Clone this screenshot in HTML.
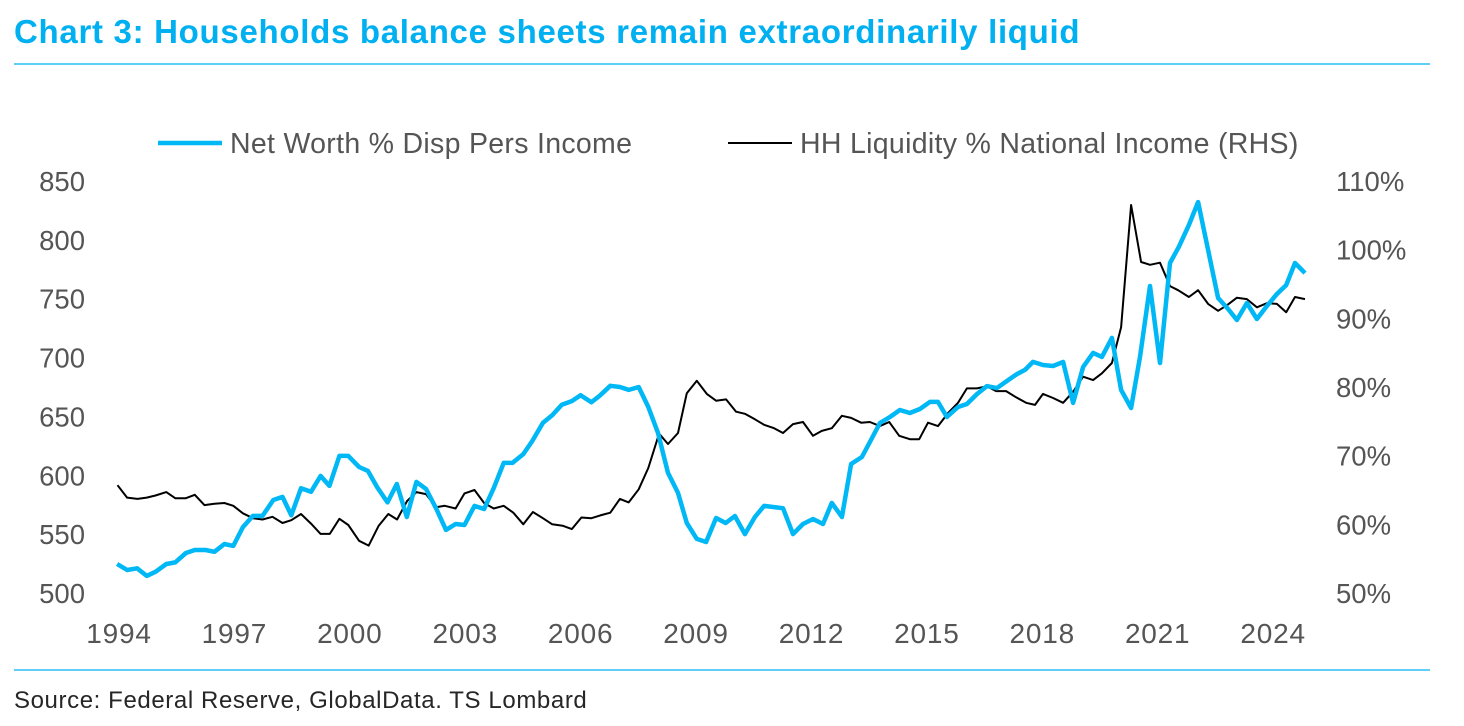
<!DOCTYPE html>
<html><head><meta charset="utf-8"><style>
body{margin:0;background:#fff;width:1464px;height:726px;overflow:hidden;font-family:"Liberation Sans",sans-serif}
#title{position:absolute;left:14px;top:13px;font-size:33px;font-weight:bold;color:#00b0f0;letter-spacing:0.7px;white-space:nowrap}
svg{position:absolute;left:0;top:0}
</style></head><body>
<div id="title">Chart 3: Households balance sheets remain extraordinarily liquid</div>
<svg id="chart" width="1464" height="726"></svg>
<script>
const leftTicks=[500,550,600,650,700,750,800,850];
const rightTicks=[50,60,70,80,90,100,110];
const yearTicks=[1994,1997,2000,2003,2006,2009,2012,2015,2018,2021,2024];
const nwDates=[1993.95,1994.21,1994.47,1994.72,1994.95,1995.23,1995.46,1995.74,1995.97,1996.25,1996.48,1996.74,1996.97,1997.22,1997.48,1997.73,1998.01,1998.25,1998.48,1998.73,1998.99,1999.24,1999.47,1999.73,1999.96,2000.24,2000.47,2000.71,2000.98,2001.22,2001.48,2001.73,2001.98,2002.24,2002.50,2002.75,2002.98,2003.24,2003.49,2003.74,2004.0,2004.23,2004.51,2004.74,2005.02,2005.26,2005.51,2005.77,2006.0,2006.28,2006.51,2006.77,2007.02,2007.25,2007.51,2007.76,
2008.01,2008.27,2008.53,2008.76,2009.02,2009.26,2009.52,2009.77,2010.01,2010.27,2010.53,2010.77,2011.03,2011.26,2011.52,2011.78,2012.04,2012.30,2012.53,2012.79,2013.03,2013.31,2013.52,2013.78,2014.04,2014.30,2014.56,2014.82,2015.08,2015.29,2015.52,2015.81,2016.04,2016.30,2016.56,2016.82,2017.08,2017.34,2017.55,2017.76,2018.02,2018.28,2018.54,2018.80,2019.06,2019.32,2019.55,2019.81,2020.05,2020.31,2020.54,2020.80,2021.06,2021.32,2021.55,2021.81,2022.05,2022.31,2022.57,2022.83,2023.06,2023.32,2023.58,2023.84,2024.10,2024.34,2024.57,2024.83];
const nwValues=[524.6,519.5,521,514.5,518,524.6,526,534,536.5,536.5,535,541.6,540,556,565.5,565.5,579,581.6,566,589,586,599.5,591,616.5,616.5,607,603.7,590,577,592.6,564.6,594.4,588.4,572,553.6,558.6,557.8,574,571.4,589,610.5,610.5,618,629,644.5,651,660,663,668,662,668,676,675,672.5,675,658,
636,602,585,559.5,546,543.3,563.7,559.5,565.4,550,564.6,574,573,572,550,558.6,562.9,558.6,576.5,564.6,609.6,615.5,628.3,644.4,649.5,655.5,652.9,656.3,662.3,662.3,649.5,658,660.6,669,675.8,674.1,680.1,686,689.5,696.3,693.7,692.8,696.3,661.5,692,704,700.6,716.7,672.5,657.2,700.6,760.8,695.4,780.3,794,812.6,832.1,791.4,750.6,741.3,731.9,746.4,732.8,743.8,754,761.6,780.3,771.8];
const liqDates=[1993.96,1994.21,1994.48,1994.72,1994.95,1995.23,1995.46,1995.74,1995.97,1996.22,1996.48,1996.74,1996.97,1997.22,1997.48,1997.73,1997.99,1998.25,1998.48,1998.73,1998.99,1999.24,1999.48,1999.73,1999.96,2000.24,2000.49,2000.75,2001.0,2001.23,2001.49,2001.73,2001.98,2002.24,2002.47,2002.75,2002.98,2003.24,2003.49,2003.74,2004.0,2004.25,2004.51,2004.76,2005.02,2005.26,2005.53,2005.77,2006.02,2006.28,2006.51,2006.77,2007.02,2007.25,2007.51,2007.76,2008.04,
2008.27,2008.53,2008.76,2009.02,2009.28,2009.52,2009.78,2010.04,2010.27,2010.53,2010.77,2011.03,2011.26,2011.52,2011.78,2012.04,2012.27,2012.53,2012.79,2013.03,2013.29,2013.52,2013.78,2014.02,2014.28,2014.56,2014.80,2015.03,2015.29,2015.55,2015.81,2016.04,2016.30,2016.56,2016.80,2017.06,2017.32,2017.58,2017.81,2018.02,2018.28,2018.54,2018.80,2019.06,2019.32,2019.55,2019.81,2020.05,2020.31,2020.57,2020.80,2021.06,2021.32,2021.53,2021.81,2022.05,2022.31,2022.57,2022.80,2023.06,2023.32,2023.58,2023.84,2024.10,2024.34,2024.57,2024.83];
const liqValues=[65.7,63.9,63.7,63.9,64.2,64.7,63.8,63.8,64.3,62.8,63.0,63.1,62.7,61.6,60.9,60.7,61.1,60.2,60.6,61.5,60.1,58.6,58.6,60.8,59.9,57.6,56.9,59.8,61.5,60.7,63.4,64.7,64.4,62.5,62.7,62.3,64.5,65.0,63.1,62.3,62.7,61.7,60.0,61.8,60.9,60.0,59.8,59.3,61.0,60.9,61.3,61.7,63.7,63.2,65.1,68.2,73.2,
71.7,73.3,79.1,80.9,79.0,78.0,78.2,76.4,76.1,75.3,74.5,74.0,73.3,74.6,74.9,72.9,73.6,74.0,75.8,75.5,74.8,74.9,74.3,74.9,72.9,72.4,72.4,74.8,74.3,76.2,77.7,79.8,79.8,80.1,79.4,79.4,78.5,77.7,77.4,79.0,78.4,77.7,79.3,81.5,81.0,82.0,83.5,88.7,106.5,98.2,97.8,98.1,94.7,94.1,93.1,94.1,92.1,91.1,91.9,93.0,92.8,91.6,92.2,92.1,90.9,93.1,92.8];

const NS='http://www.w3.org/2000/svg';
const svg=document.getElementById('chart');
const xS=t=>119+(t-1994)*38.47;
const yL=v=>593-(v-500)*(412/350);
const yR=v=>593-(v-50)*(412/60);
const TXT='#555555';
function mk(tag,attrs,text){const e=document.createElementNS(NS,tag);for(const k in attrs)e.setAttribute(k,attrs[k]);if(text!==undefined)e.textContent=text;svg.appendChild(e);return e;}
let e;
e=mk('line',{x1:14,y1:64,x2:1430,y2:64,stroke:'#00b0f0','stroke-width':1.2});


e=mk('line',{x1:14,y1:670,x2:1430,y2:670,stroke:'#00b0f0','stroke-width':1.2});


leftTicks.forEach(v=>{e=mk('text',{x:85,y:yL(v)+10,'text-anchor':'end','font-size':27.5,fill:TXT},String(v));

});
rightTicks.forEach(v=>{e=mk('text',{x:1336,y:yR(v)+10,'font-size':27.5,fill:TXT},v+'%');

});
yearTicks.forEach(v=>{e=mk('text',{x:xS(v),y:643,'text-anchor':'middle','font-size':28,'letter-spacing':0.8,fill:TXT},String(v));

});
let d=liqDates.map((t,i)=>(i?'L':'M')+xS(t).toFixed(1)+' '+yR(liqValues[i]).toFixed(1)).join('');
e=mk('path',{d:d,fill:'none',stroke:'#000','stroke-width':2,'stroke-linejoin':'round'});


d=nwDates.map((t,i)=>(i?'L':'M')+xS(t).toFixed(1)+' '+yL(nwValues[i]).toFixed(1)).join('');
e=mk('path',{d:d,fill:'none',stroke:'#00b8f5','stroke-width':4.5,'stroke-linejoin':'round'});


e=mk('line',{x1:158,y1:143,x2:222,y2:143,stroke:'#00b8f5','stroke-width':4.5});


e=mk('text',{x:230,y:153,'font-size':28.5,'letter-spacing':0.3,fill:TXT},'Net Worth % Disp Pers Income');


e=mk('line',{x1:728,y1:143,x2:792,y2:143,stroke:'#000','stroke-width':2});


e=mk('text',{x:800,y:153,'font-size':28.5,'letter-spacing':0.3,fill:TXT},'HH Liquidity % National Income (RHS)');


e=mk('text',{x:14,y:708,'font-size':24,'letter-spacing':0.6,fill:'#262626'},'Source: Federal Reserve, GlobalData. TS Lombard');


</script>
</body></html>
